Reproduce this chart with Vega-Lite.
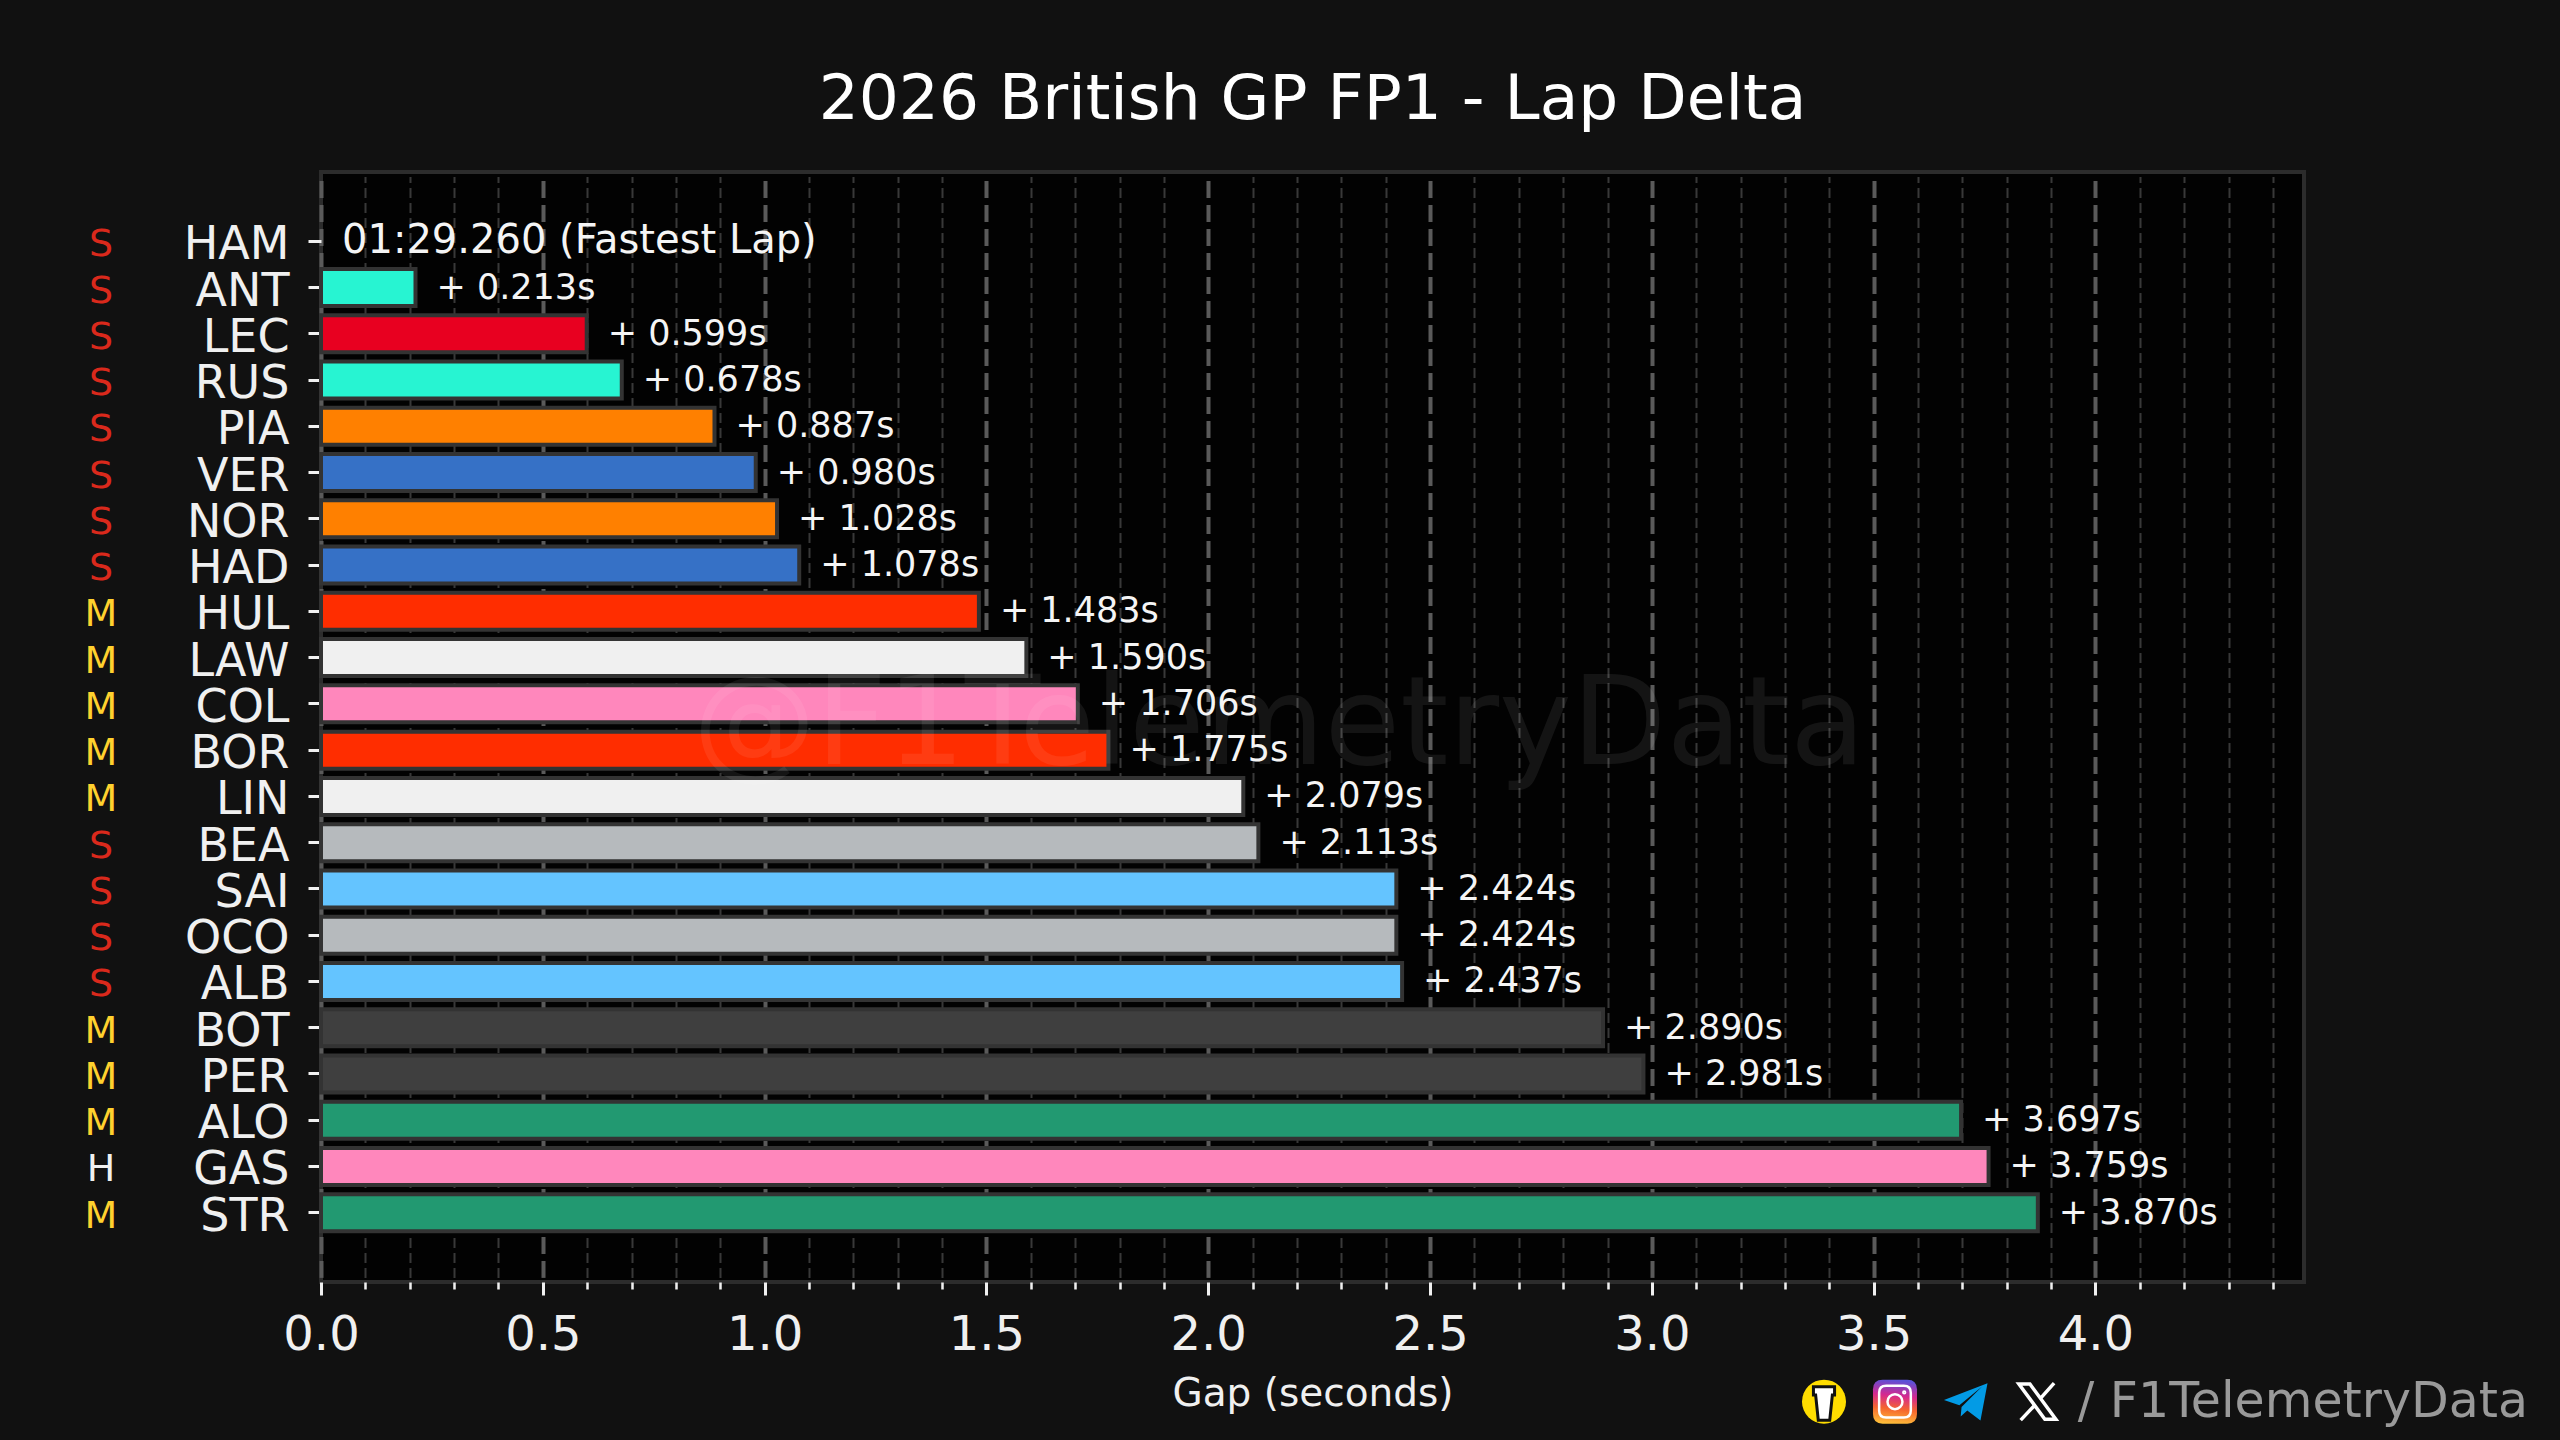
{
  "$schema": "https://vega.github.io/schema/vega-lite/v6.json",
  "background": "#111111",
  "autosize": {"type": "none"},
  "padding": {"left": 321, "top": 172, "right": 256, "bottom": 158},
  "width": 1983,
  "height": 1110,
  "title": {"text": "2026 British GP FP1 - Lap Delta", "font": "DejaVu Sans", "fontSize": 63, "fontWeight": "normal", "color": "#ffffff", "anchor": "middle", "offset": 40},
  "config": {
    "view": {"fill": "#020202", "stroke": "#2c2c2c", "strokeWidth": 4},
    "font": "DejaVu Sans",
    "axisY": {
      "domain": false,
      "grid": false,
      "ticks": true,
      "tickColor": "#f0f0f0",
      "tickSize": 13,
      "tickWidth": 3,
      "labelColor": "#f0f0f0",
      "labelFontSize": 46,
      "labelPadding": 19,
      "labelOffset": 4
    }
  },
  "datasets": {
    "laps": [
      {"driver": "HAM", "gap": 0, "team": "Ferrari", "compound": "S", "label": "01:29.260 (Fastest Lap)"},
      {"driver": "ANT", "gap": 0.213, "team": "Mercedes", "compound": "S", "label": "+ 0.213s"},
      {"driver": "LEC", "gap": 0.599, "team": "Ferrari", "compound": "S", "label": "+ 0.599s"},
      {"driver": "RUS", "gap": 0.678, "team": "Mercedes", "compound": "S", "label": "+ 0.678s"},
      {"driver": "PIA", "gap": 0.887, "team": "McLaren", "compound": "S", "label": "+ 0.887s"},
      {"driver": "VER", "gap": 0.98, "team": "Red Bull", "compound": "S", "label": "+ 0.980s"},
      {"driver": "NOR", "gap": 1.028, "team": "McLaren", "compound": "S", "label": "+ 1.028s"},
      {"driver": "HAD", "gap": 1.078, "team": "Red Bull", "compound": "S", "label": "+ 1.078s"},
      {"driver": "HUL", "gap": 1.483, "team": "Audi", "compound": "M", "label": "+ 1.483s"},
      {"driver": "LAW", "gap": 1.59, "team": "Racing Bulls", "compound": "M", "label": "+ 1.590s"},
      {"driver": "COL", "gap": 1.706, "team": "Alpine", "compound": "M", "label": "+ 1.706s"},
      {"driver": "BOR", "gap": 1.775, "team": "Audi", "compound": "M", "label": "+ 1.775s"},
      {"driver": "LIN", "gap": 2.079, "team": "Racing Bulls", "compound": "M", "label": "+ 2.079s"},
      {"driver": "BEA", "gap": 2.113, "team": "Haas", "compound": "S", "label": "+ 2.113s"},
      {"driver": "SAI", "gap": 2.424, "team": "Williams", "compound": "S", "label": "+ 2.424s"},
      {"driver": "OCO", "gap": 2.424, "team": "Haas", "compound": "S", "label": "+ 2.424s"},
      {"driver": "ALB", "gap": 2.437, "team": "Williams", "compound": "S", "label": "+ 2.437s"},
      {"driver": "BOT", "gap": 2.89, "team": "Cadillac", "compound": "M", "label": "+ 2.890s"},
      {"driver": "PER", "gap": 2.981, "team": "Cadillac", "compound": "M", "label": "+ 2.981s"},
      {"driver": "ALO", "gap": 3.697, "team": "Aston Martin", "compound": "M", "label": "+ 3.697s"},
      {"driver": "GAS", "gap": 3.759, "team": "Alpine", "compound": "H", "label": "+ 3.759s"},
      {"driver": "STR", "gap": 3.87, "team": "Aston Martin", "compound": "M", "label": "+ 3.870s"}
    ]
  },
  "data": {"name": "laps"},
  "resolve": {"axis": {"x": "independent"}, "scale": {"color": "independent"}},
  "encoding": {
    "y": {
      "field": "driver",
      "type": "nominal",
      "title": null,
      "scale": {
        "type": "band",
        "domain": ["HAM", "ANT", "LEC", "RUS", "PIA", "VER", "NOR", "HAD", "HUL", "LAW", "COL", "BOR", "LIN", "BEA", "SAI", "OCO", "ALB", "BOT", "PER", "ALO", "GAS", "STR"],
        "range": [4.6, 1105.4],
        "paddingInner": 0.2,
        "paddingOuter": 1
      }
    }
  },
  "layer": [
    {
      "transform": [{"filter": "datum.gap > 0"}],
      "mark": {"type": "bar", "stroke": "#333333", "strokeWidth": 4},
      "encoding": {
        "x": {
          "field": "gap",
          "type": "quantitative",
          "title": "Gap (seconds)",
          "scale": {"domain": [0, 4.47], "nice": false, "zero": false},
          "axis": {
            "orient": "bottom",
            "values": [0, 0.5, 1, 1.5, 2, 2.5, 3, 3.5, 4],
            "format": ".1f",
            "domain": false,
            "grid": true,
            "gridColor": "#5a5a5a",
            "gridWidth": 4,
            "gridDash": [17, 7],
            "tickColor": "#f0f0f0",
            "tickSize": 13,
            "tickWidth": 3,
            "labelColor": "#f0f0f0",
            "labelFontSize": 48,
            "labelPadding": 16,
            "labelFlush": false,
            "titleColor": "#f0f0f0",
            "titleFontSize": 39,
            "titleFontWeight": "normal",
            "titlePadding": 15
          }
        },
        "color": {
          "field": "team",
          "type": "nominal",
          "legend": null,
          "scale": {
            "domain": ["Mercedes", "Ferrari", "McLaren", "Red Bull", "Audi", "Racing Bulls", "Alpine", "Haas", "Williams", "Cadillac", "Aston Martin"],
            "range": ["#27F4D2", "#E80020", "#FF8000", "#3671C6", "#FF2D00", "#F0F0F0", "#FF87BC", "#B6BABD", "#64C4FF", "#3F3F3F", "#229971"]
          }
        }
      }
    },
    {
      "transform": [{"filter": "datum.gap > 0"}],
      "mark": {"type": "text", "align": "left", "baseline": "middle", "dx": 21, "fontSize": 35, "color": "#f5f5f5"},
      "encoding": {
        "x": {
          "field": "gap",
          "type": "quantitative",
          "title": null,
          "scale": {"domain": [0, 4.47], "nice": false, "zero": false},
          "axis": {
            "orient": "bottom",
            "values": [0.1, 0.2, 0.3, 0.4, 0.6, 0.7, 0.8, 0.9, 1.1, 1.2, 1.3, 1.4, 1.6, 1.7, 1.8, 1.9, 2.1, 2.2, 2.3, 2.4, 2.6, 2.7, 2.8, 2.9, 3.1, 3.2, 3.3, 3.4, 3.6, 3.7, 3.8, 3.9, 4.1, 4.2, 4.3, 4.4],
            "labels": false,
            "domain": false,
            "grid": true,
            "gridColor": "#383838",
            "gridWidth": 2,
            "gridDash": [10, 5],
            "tickColor": "#f0f0f0",
            "tickSize": 7,
            "tickWidth": 2.5
          }
        },
        "text": {"field": "label"}
      }
    },
    {
      "transform": [{"filter": "datum.gap === 0"}],
      "mark": {"type": "text", "align": "left", "baseline": "middle", "dx": 21, "fontSize": 40, "color": "#f5f5f5"},
      "encoding": {
        "x": {"field": "gap", "type": "quantitative", "axis": null},
        "text": {"field": "label"}
      }
    },
    {
      "mark": {"type": "text", "align": "center", "baseline": "middle", "dx": -220, "dy": 4, "fontSize": 38},
      "encoding": {
        "x": {"datum": 0, "type": "quantitative", "axis": null},
        "text": {"field": "compound"},
        "color": {
          "field": "compound",
          "type": "nominal",
          "legend": null,
          "scale": {"domain": ["S", "M", "H"], "range": ["#DA291C", "#FFD12E", "#F0F0F0"]}
        }
      }
    },
    {
      "data": {"values": [{"tag": "@F1TelemetryData"}]},
      "mark": {"type": "text", "align": "center", "baseline": "middle", "dy": 23, "fontSize": 123, "color": "#ffffff", "opacity": 0.07},
      "encoding": {
        "x": {"datum": 2.16, "type": "quantitative", "axis": null},
        "y": {"datum": "COL", "type": "nominal", "title": null},
        "text": {"field": "tag"}
      }
    },
    {
      "data": {"values": [{"tag": "/ F1TelemetryData"}]},
      "mark": {"type": "text", "align": "left", "baseline": "middle", "dy": 189, "fontSize": 49, "color": "#9a9a9a"},
      "encoding": {
        "x": {"datum": 3.96, "type": "quantitative", "axis": null},
        "y": {"datum": "STR", "type": "nominal", "title": null},
        "text": {"field": "tag"}
      }
    },
    {
      "data": {"values": [{"icon": "coffee"}]},
      "mark": {"type": "point", "shape": "circle", "filled": true, "size": 1936, "color": "#FFDD00", "opacity": 1, "yOffset": 189},
      "encoding": {
        "x": {"datum": 3.388, "type": "quantitative", "axis": null},
        "y": {"datum": "STR", "type": "nominal", "title": null}
      }
    },
    {
      "data": {"values": [{"icon": "coffee cup"}]},
      "mark": {"type": "point", "shape": "M-0.24,-0.34 H0.24 V-0.15 H0.19 L0.13,0.42 H-0.13 L-0.19,-0.15 H-0.24 Z", "filled": true, "size": 7744, "color": "#ffffff", "stroke": "#111111", "strokeWidth": 3, "opacity": 1, "yOffset": 189},
      "encoding": {
        "x": {"datum": 3.388, "type": "quantitative", "axis": null},
        "y": {"datum": "STR", "type": "nominal", "title": null}
      }
    },
    {
      "data": {"values": [{"icon": "instagram"}]},
      "mark": {
        "type": "point",
        "shape": "M-0.28,-0.5 H0.28 Q0.5,-0.5 0.5,-0.28 V0.28 Q0.5,0.5 0.28,0.5 H-0.28 Q-0.5,0.5 -0.5,0.28 V-0.28 Q-0.5,-0.5 -0.28,-0.5 Z",
        "filled": true,
        "size": 7744,
        "opacity": 1,
        "yOffset": 189,
        "fill": {
          "gradient": "linear",
          "x1": 0.3, "y1": 1, "x2": 0.4, "y2": 0,
          "stops": [
            {"offset": 0, "color": "#FFC13A"},
            {"offset": 0.35, "color": "#F5652E"},
            {"offset": 0.65, "color": "#D6288F"},
            {"offset": 1, "color": "#5B51D8"}
          ]
        }
      },
      "encoding": {
        "x": {"datum": 3.548, "type": "quantitative", "axis": null},
        "y": {"datum": "STR", "type": "nominal", "title": null}
      }
    },
    {
      "data": {"values": [{"icon": "instagram glyph"}]},
      "mark": {
        "type": "point",
        "shape": "M-0.2,-0.36 H0.2 Q0.36,-0.36 0.36,-0.2 V0.2 Q0.36,0.36 0.2,0.36 H-0.2 Q-0.36,0.36 -0.36,0.2 V-0.2 Q-0.36,-0.36 -0.2,-0.36 Z M-0.17,0 A0.17,0.17 0 1 0 0.17,0 A0.17,0.17 0 1 0 -0.17,0 Z M0.19,-0.21 A0.02,0.02 0 1 0 0.23,-0.21 A0.02,0.02 0 1 0 0.19,-0.21 Z",
        "filled": false,
        "size": 7744,
        "stroke": "#ffffff",
        "strokeWidth": 2.5,
        "opacity": 1,
        "yOffset": 189
      },
      "encoding": {
        "x": {"datum": 3.548, "type": "quantitative", "axis": null},
        "y": {"datum": "STR", "type": "nominal", "title": null}
      }
    },
    {
      "data": {"values": [{"icon": "telegram"}]},
      "mark": {
        "type": "point",
        "shape": "M0.49,-0.42 L-0.5,-0.04 L-0.15,0.08 L0.36,-0.34 L-0.1,0.12 L-0.12,0.34 L0.03,0.2 L0.33,0.43 Z",
        "filled": true,
        "size": 7744,
        "color": "#039BE5",
        "opacity": 1,
        "yOffset": 189
      },
      "encoding": {
        "x": {"datum": 3.708, "type": "quantitative", "axis": null},
        "y": {"datum": "STR", "type": "nominal", "title": null}
      }
    },
    {
      "data": {"values": [{"icon": "x logo"}]},
      "mark": {
        "type": "point",
        "shape": "M-0.42,-0.4 H-0.17 L0.42,0.4 H0.17 Z M0.38,-0.42 L0.05,-0.05 M-0.05,0.07 L-0.38,0.42",
        "filled": false,
        "size": 7744,
        "stroke": "#ffffff",
        "strokeWidth": 3.5,
        "opacity": 1,
        "yOffset": 189
      },
      "encoding": {
        "x": {"datum": 3.869, "type": "quantitative", "axis": null},
        "y": {"datum": "STR", "type": "nominal", "title": null}
      }
    }
  ]
}
